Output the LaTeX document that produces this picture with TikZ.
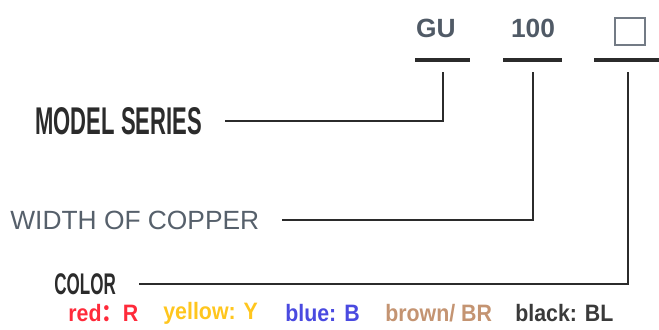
\documentclass[tikz,border=0pt]{standalone}
\usepackage{fontspec}
\setmainfont{Liberation Sans}
\newfontfamily\cjkfont{Noto Sans CJK SC}
\usetikzlibrary{positioning}
\definecolor{Ink}{HTML}{2B2B2B}
\definecolor{Slate}{HTML}{505A66}
\definecolor{Steel}{HTML}{56606B}
\definecolor{RedTag}{HTML}{FF2A3A}
\definecolor{YellowTag}{HTML}{FFC61E}
\definecolor{BlueTag}{HTML}{4A4AE0}
\definecolor{BrownTag}{HTML}{C49472}
\definecolor{BlackTag}{HTML}{3A3A3A}

\begin{document}
\begin{tikzpicture}[x=0.02cm,y=-0.02cm,
  code/.style={anchor=center,inner sep=0pt,text=Slate,font=\fontsize{15}{18}\selectfont\bfseries},
  bar/.style={line width=2.2pt,draw=Ink},
  conn/.style={line width=0.8pt,draw=Ink,shorten >=13pt},
  label/.style={anchor=west,inner sep=0pt,text=Ink},
  swatch/.style={anchor=west,inner sep=0pt,font=\fontsize{13.5}{16}\selectfont\bfseries}
]
  \path[use as bounding box] (0,0) rectangle (659,329);

  % part number fields
  \node[code] (gu) at (436,28) {GU};
  \node[code] (width) at (533,28) {100};
  \node[draw=Slate!80,line width=0.7pt,minimum width=30*0.02cm,minimum height=27*0.02cm,inner sep=0pt] (colbox) at (630,31.5) {};

  \draw[bar] (415,60) -- (470,60);
  \draw[bar] (503,60) -- (562,60);
  \draw[bar] (594,60) -- (659,60);

  \coordinate (guTop) at (443,72);
  \coordinate (widthTop) at (533,72);
  \coordinate (colorTop) at (628,72);

  % descriptions
  \node[label,font=\fontsize{22}{26}\selectfont\bfseries] (model) at (35,121) {\scalebox{0.57}[1]{MODEL SERIES}};
  \node[label,text=Steel,font=\fontsize{15}{18}\selectfont] (copper) at (10,220) {WIDTH OF COPPER};
  \node[label,font=\fontsize{17}{20}\selectfont\bfseries] (color) at (54,284) {\scalebox{0.57}[1]{COLOR}};

  \draw[conn] (guTop) |- (model.east);
  \draw[conn] (widthTop) |- (copper.east);
  \draw[conn] (colorTop) |- (color.east);

  % colour codes
  \node[swatch,text=RedTag] (red) at (68,313) {\scalebox{0.9}[1]{red{\cjkfont ：}R}};
  \node[swatch,text=YellowTag] (yellow) at (163,313) {\scalebox{0.9}[1]{yellow: Y}};
  \node[swatch,text=BlueTag] (blue) at (285,313) {\scalebox{0.9}[1]{blue: B}};
  \node[swatch,text=BrownTag] (brown) at (385,313) {\scalebox{0.9}[1]{brown/ BR}};
  \node[swatch,text=BlackTag] (black) at (515,313) {\scalebox{0.9}[1]{black: BL}};
\end{tikzpicture}
\end{document}
